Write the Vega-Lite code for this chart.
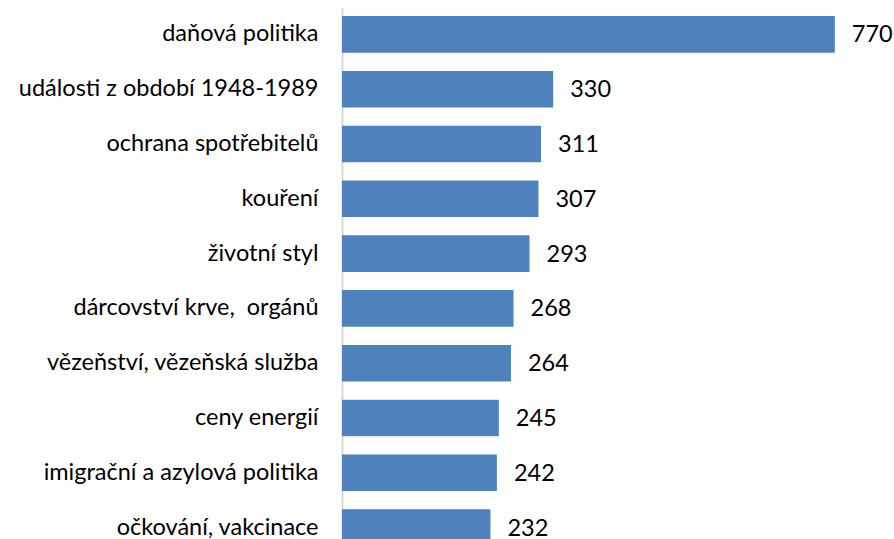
{
  "$schema": "https://vega.github.io/schema/vega-lite/v6.json",
  "autosize": "none",
  "padding": {"left": 342, "top": 7, "right": 40, "bottom": 0},
  "width": 512,
  "height": 548,
  "background": "white",
  "config": {"view": {"stroke": null}, "font": "Lato"},
  "data": {"values": [
    {"tema": "daňová politika", "pocet": 770},
    {"tema": "události z období 1948-1989", "pocet": 330},
    {"tema": "ochrana spotřebitelů", "pocet": 311},
    {"tema": "kouření", "pocet": 307},
    {"tema": "životní styl", "pocet": 293},
    {"tema": "dárcovství krve, \u00a0orgánů", "pocet": 268},
    {"tema": "vězeňství, vězeňská služba", "pocet": 264},
    {"tema": "ceny energií", "pocet": 245},
    {"tema": "imigrační a azylová politika", "pocet": 242},
    {"tema": "očkování, vakcinace", "pocet": 232}
  ]},
  "encoding": {
    "y": {
      "field": "tema", "type": "nominal", "sort": null,
      "scale": {"paddingInner": 0.333, "paddingOuter": 0.1665},
      "axis": {
        "title": null, "ticks": false, "domainColor": "#d9d9d9", "domainWidth": 2,
        "labelFont": "Lato", "labelFontSize": 23.5, "labelColor": "#000000",
        "labelPadding": 24, "labelLimit": 400
      }
    },
    "x": {
      "field": "pocet", "type": "quantitative",
      "scale": {"domain": [0, 800]},
      "axis": null
    }
  },
  "layer": [
    {"mark": {"type": "bar", "color": "#4f81bd"}},
    {
      "mark": {"type": "text", "align": "left", "baseline": "middle", "dx": 17, "dy": 1, "fontSize": 23.5, "font": "Lato", "color": "#000000"},
      "encoding": {"text": {"field": "pocet", "type": "quantitative"}}
    }
  ]
}
